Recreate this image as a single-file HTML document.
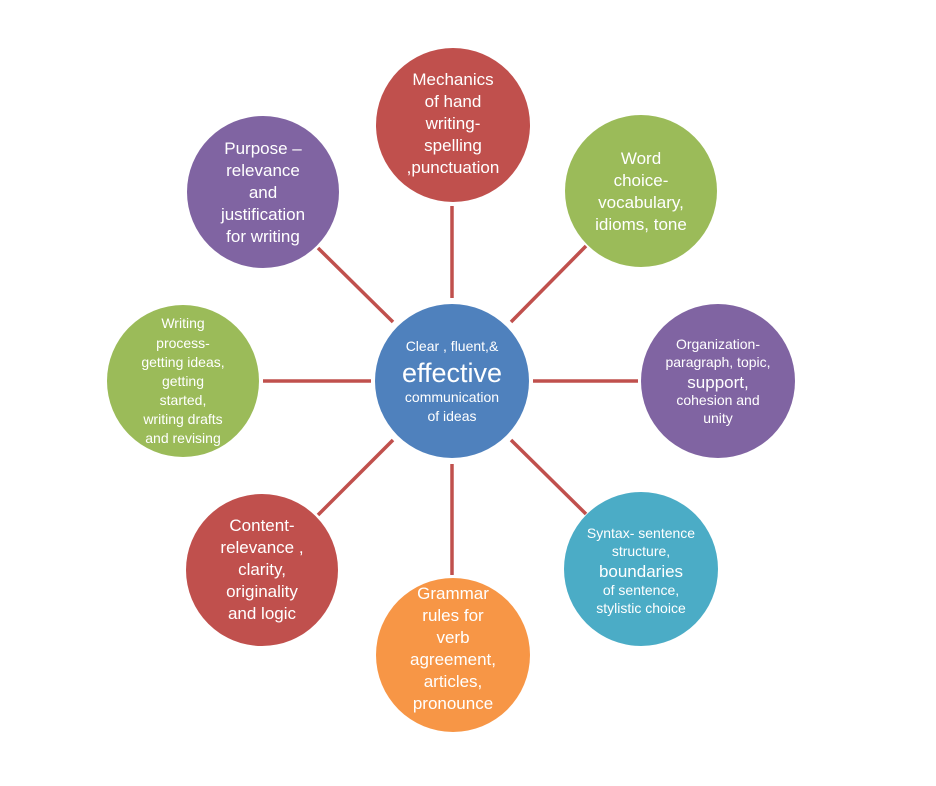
<!DOCTYPE html>
<html><head><style>
body{margin:0;background:#fff;}
svg{display:block;}
text{font-family:"Liberation Sans",sans-serif;fill:#fff;text-anchor:middle;}
</style></head><body>
<svg width="936" height="786" viewBox="0 0 936 786">
<g stroke="#c0504d" stroke-width="3.5">
<line x1="452" y1="298" x2="452" y2="206"/>
<line x1="511" y1="322" x2="586" y2="246"/>
<line x1="533" y1="381" x2="638" y2="381"/>
<line x1="511" y1="440" x2="586" y2="514"/>
<line x1="452" y1="464" x2="452" y2="575"/>
<line x1="393" y1="440" x2="318" y2="515"/>
<line x1="371" y1="381" x2="263" y2="381"/>
<line x1="393" y1="322" x2="318" y2="248"/>
</g>
<circle cx="452" cy="381" r="77" fill="#4f81bd"/>
<circle cx="453" cy="125" r="77" fill="#c0504d"/>
<circle cx="641" cy="191" r="76" fill="#9bbb59"/>
<circle cx="718" cy="381" r="77" fill="#8064a2"/>
<circle cx="641" cy="569" r="77" fill="#4bacc6"/>
<circle cx="453" cy="655" r="77" fill="#f79646"/>
<circle cx="262" cy="570" r="76" fill="#c0504d"/>
<circle cx="183" cy="381" r="76" fill="#9bbb59"/>
<circle cx="263" cy="192" r="76" fill="#8064a2"/>

<text font-size="14" x="452" y="351">Clear , fluent,&amp;</text>
<text font-size="27" x="452" y="382">effective</text>
<text font-size="14" x="452" y="402">communication</text>
<text font-size="14" x="452" y="421">of ideas</text>

<g font-size="17">
<text x="453" y="85">Mechanics</text>
<text x="453" y="107">of hand</text>
<text x="453" y="129">writing-</text>
<text x="453" y="151">spelling</text>
<text x="453" y="173">,punctuation</text>

<text x="641" y="164">Word</text>
<text x="641" y="186">choice-</text>
<text x="641" y="208">vocabulary,</text>
<text x="641" y="230">idioms, tone</text>

<text x="263" y="154">Purpose –</text>
<text x="263" y="176">relevance</text>
<text x="263" y="198">and</text>
<text x="263" y="220">justification</text>
<text x="263" y="242">for writing</text>

<text x="262" y="531">Content-</text>
<text x="262" y="553">relevance ,</text>
<text x="262" y="575">clarity,</text>
<text x="262" y="597">originality</text>
<text x="262" y="619">and logic</text>

<text x="453" y="599">Grammar</text>
<text x="453" y="621">rules for</text>
<text x="453" y="643">verb</text>
<text x="453" y="665">agreement,</text>
<text x="453" y="687">articles,</text>
<text x="453" y="709">pronounce</text>
</g>
<g font-size="14">
<text x="183" y="328">Writing</text>
<text x="183" y="348">process-</text>
<text x="183" y="367">getting ideas,</text>
<text x="183" y="386">getting</text>
<text x="183" y="405">started,</text>
<text x="183" y="424">writing drafts</text>
<text x="183" y="443">and revising</text>

<text x="718" y="349">Organization-</text>
<text x="718" y="367">paragraph, topic,</text>
<text x="718" y="388" font-size="17">support,</text>
<text x="718" y="405">cohesion and</text>
<text x="718" y="423">unity</text>

<text x="641" y="538">Syntax- sentence</text>
<text x="641" y="556">structure,</text>
<text x="641" y="577" font-size="17">boundaries</text>
<text x="641" y="595">of sentence,</text>
<text x="641" y="613">stylistic choice</text>
</g>
</svg>
</body></html>
